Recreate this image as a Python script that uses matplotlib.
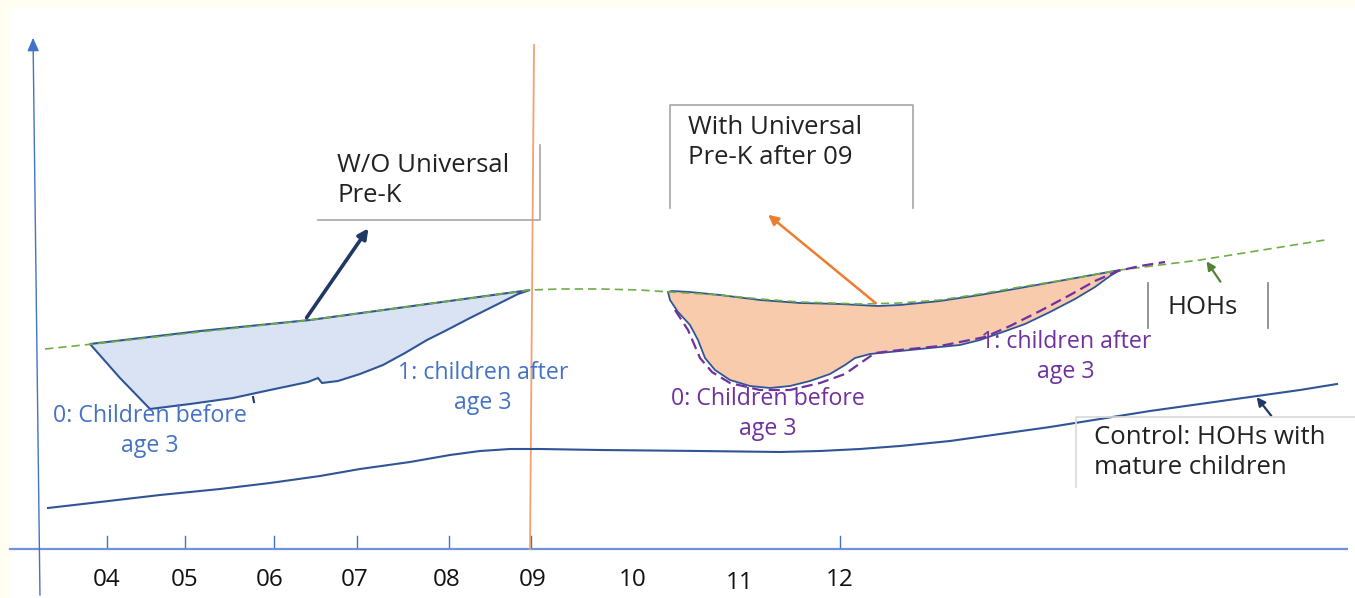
import matplotlib
matplotlib.use('Agg')
import matplotlib.pyplot as plt
from matplotlib.patches import Rectangle, Polygon
import numpy as np

# schematic drawn in pixel space of the original slide (x right, y down)
years = ['04', '05', '06', '07', '08', '09', '10', '11', '12']
year_x = [107, 185, 270, 355, 447, 533, 633, 740, 840]
year_y = [580, 580, 580, 580, 580, 580, 580, 583, 580]
tick_x = [107, 185, 274, 357, 449, 531, 840]

# HOHs trend (green dashed)
hoh_x = [45, 93, 200, 310, 420, 480, 530, 560, 600, 640, 670, 720, 760, 800, 860, 900,
         940, 980, 1020, 1070, 1120, 1200, 1325]
hoh_y = [349, 344, 332, 320, 305, 297, 290, 289, 289, 290, 292, 295, 299, 302, 304, 303,
         300, 294, 287, 279, 270, 260, 240]

# control group: HOHs with mature children
ctrl_x = [48, 100, 160, 220, 270, 320, 360, 410, 450, 480, 510, 540, 600, 700, 780, 820,
          860, 900, 950, 1000, 1050, 1100, 1150, 1200, 1250, 1300, 1337]
ctrl_y = [508, 502, 495, 489, 483, 476, 469, 462, 455, 451, 449, 449, 450, 451, 452, 451,
          449, 446, 441, 434, 427, 419, 411, 404, 397, 390, 384]

# W/O universal pre-K gap (blue area)
pre_x = [90, 200, 310, 420, 530, 518, 500, 470, 445, 427, 405, 383, 360, 338, 322, 318,
         308, 270, 233, 190, 150, 120, 90]
pre_y = [344, 331, 320, 305, 290, 294, 303, 318, 331, 340, 353, 365, 374, 381, 383, 378,
         382, 390, 398, 404, 409, 378, 344]

# with universal pre-K gap (orange area)
post_x = [668, 672, 690, 720, 760, 800, 840, 878, 900, 940, 980, 1020, 1070, 1120, 1110,
          1095, 1075, 1050, 1025, 1000, 980, 960, 930, 900, 870, 855, 845, 830, 810, 790,
          770, 750, 730, 715, 705, 698, 690, 678, 670, 668]
post_y = [292, 291, 292, 295, 300, 303, 304, 306, 305, 301, 295, 288, 279, 270, 276,
          287, 299, 312, 324, 333, 340, 345, 348, 351, 354, 358, 365, 374, 381, 386,
          388, 386, 380, 370, 358, 340, 325, 312, 300, 292]

# purple dashed outcome path
purp_x = [675, 688, 700, 712, 730, 760, 790, 820, 845, 862, 875, 900, 940, 985, 1010,
          1040, 1070, 1095, 1118, 1140, 1165]
purp_y = [310, 330, 358, 372, 383, 390, 390, 383, 374, 362, 353, 350, 346, 337, 326,
          311, 295, 281, 271, 266, 262]

BLUE_TXT = '#4472C4'
PURPLE = '#7030A0'
NAVY = '#2F5597'

plt.rcParams['font.family'] = ['Open Sans', 'DejaVu Sans']

fig = plt.figure(figsize=(13.55, 5.98), dpi=100, facecolor='#FFFEF0')
ax = fig.add_axes([0, 0, 1, 1])
ax.set_xlim(0, 1355)
ax.set_ylim(598, 0)
ax.axis('off')
ax.add_patch(Rectangle((10, 7), 1345, 591, facecolor='white', edgecolor='none', zorder=0))

# axes of the sketch
ax.annotate('', xy=(33, 35), xytext=(40, 598),
            arrowprops=dict(arrowstyle='-|>,head_length=0.8,head_width=0.35', color='#4472C4', lw=1))
ax.plot([10, 1347], [549, 549], color='#6F93DB', lw=1.6, zorder=2)
for tx in tick_x:
    ax.plot([tx, tx], [536, 547], color='#4472C4', lw=1, zorder=2)
for lab, lx, ly in zip(years, year_x, year_y):
    ax.text(lx, ly, lab, ha='center', va='center', fontsize=17.5, color='#111111')

# policy line at 09
ax.plot([534, 530], [45, 549], color='#F4A070', lw=1.3, zorder=3)

# filled gaps
ax.add_patch(Polygon(np.column_stack([pre_x, pre_y]), closed=True, facecolor='#DAE3F3',
                     edgecolor=NAVY, lw=1.5, zorder=2))
ax.add_patch(Polygon(np.column_stack([post_x, post_y]), closed=True, facecolor='#F8CBAD',
                     edgecolor=NAVY, lw=1.3, zorder=2))
ax.plot([253, 254], [397, 402], color='#1F3864', lw=1.5, zorder=3)

ax.plot(hoh_x, hoh_y, color='#70AD47', lw=1.2, ls=(0, (5, 3)), zorder=3)
ax.plot(purp_x, purp_y, color=PURPLE, lw=1.6, ls=(0, (5, 2.5)), zorder=3)
ax.plot(ctrl_x, ctrl_y, color=NAVY, lw=1.5, zorder=3)

# callout arrows
ax.annotate('', xy=(370, 226), xytext=(305, 320),
            arrowprops=dict(arrowstyle='-|>,head_length=0.6,head_width=0.3', color='#1F3864', lw=2.6))
ax.annotate('', xy=(766, 213), xytext=(878, 305),
            arrowprops=dict(arrowstyle='-|>,head_length=0.6,head_width=0.3', color='#ED7D31', lw=1.8))
ax.annotate('', xy=(1205, 259), xytext=(1222, 284),
            arrowprops=dict(arrowstyle='-|>,head_length=0.5,head_width=0.25', color='#548235', lw=1.6))
ax.annotate('', xy=(1255, 395), xytext=(1273, 418),
            arrowprops=dict(arrowstyle='-|>,head_length=0.5,head_width=0.25', color='#1F3864', lw=1.6))

# text boxes (partial borders, as on the slide)
box_c = '#A6A6A6'
tsz = 18.5
ax.plot([318, 540, 540], [220, 220, 145], color=box_c, lw=1.2, zorder=4)
ax.text(337, 165, 'W/O Universal', fontsize=tsz, color='#222222', va='center')
ax.text(337, 196, 'Pre-K', fontsize=tsz, color='#222222', va='center')

ax.plot([670, 670, 913, 913], [208, 105, 105, 208], color=box_c, lw=1.2, zorder=4)
ax.text(688, 127, 'With Universal', fontsize=tsz, color='#222222', va='center')
ax.text(688, 157, 'Pre-K after 09', fontsize=tsz, color='#222222', va='center')

ax.plot([1148, 1148], [283, 328], color='#808080', lw=1.2, zorder=4)
ax.plot([1268, 1268], [283, 328], color='#808080', lw=1.2, zorder=4)
ax.text(1168, 307, 'HOHs', fontsize=tsz, color='#222222', va='center')

ax.plot([1076, 1076, 1355], [487, 417, 417], color='#D9D9D9', lw=1.2, zorder=4)
ax.text(1094, 438, 'Control: HOHs with', fontsize=tsz, color='#222222', va='center')
ax.text(1094, 468, 'mature children', fontsize=tsz, color='#222222', va='center')

# group labels
for cx, cy, s1, s2, c in [(150, 416, '0: Children before', 'age 3', BLUE_TXT),
                          (483, 373, '1: children after', 'age 3', BLUE_TXT),
                          (768, 399, '0: Children before', 'age 3', PURPLE),
                          (1066, 342, '1: children after', 'age 3', PURPLE)]:
    ax.text(cx, cy, s1, fontsize=16.7, color=c, ha='center', va='center', zorder=5)
    ax.text(cx, cy + 30, s2, fontsize=16.7, color=c, ha='center', va='center', zorder=5)

fig.savefig('out.png', dpi=100, facecolor=fig.get_facecolor())
